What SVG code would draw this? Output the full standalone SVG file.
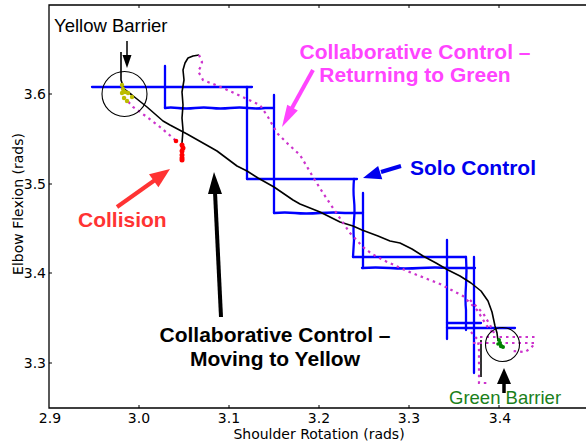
<svg xmlns="http://www.w3.org/2000/svg" width="586" height="442" viewBox="0 0 586 442">
<style>
.ax{stroke:#000;stroke-width:1.3;fill:none}
.tk{stroke:#000;stroke-width:1;fill:none}
.tl{font-family:"DejaVu Sans",sans-serif;font-size:14px;fill:#000}
.bl{stroke:#0000ff;stroke-width:2.3;fill:none;stroke-linejoin:round;stroke-linecap:round}
.bk{stroke:#000;stroke-width:1.6;fill:none;stroke-linejoin:round}
.mg{stroke:#cc33cc;stroke-width:2.2;fill:none;stroke-dasharray:2.5 4}
.ann{font-family:"Liberation Sans",Arial,sans-serif;font-weight:bold;font-size:21px}
.lab{font-family:"Liberation Sans",Arial,sans-serif;font-size:18.5px}
.circ{stroke:#000;stroke-width:1.1;fill:none}
</style>
<rect width="586" height="442" fill="#fff"/>
<g id="axes">
<path class="ax" d="M586,5 H49 V408 H586"/>
<path class="tk" d="M139,5v3M229,5v3M319,5v3M409,5v3M499,5v3M139,408v-3M229,408v-3M319,408v-3M409,408v-3M499,408v-3M49,94h3M49,184h3M49,273h3M49,363h3"/>
<g class="tl" text-anchor="middle">
<text x="50" y="423">2.9</text><text x="139" y="423">3.0</text><text x="229" y="423">3.1</text><text x="319" y="423">3.2</text><text x="409" y="423">3.3</text><text x="500" y="423">3.4</text>
<text x="319" y="439">Shoulder Rotation (rads)</text>
</g>
<g class="tl" text-anchor="end">
<text x="46" y="99">3.6</text><text x="46" y="189">3.5</text><text x="46" y="278">3.4</text><text x="46" y="368">3.3</text>
</g>
<text class="tl" text-anchor="middle" transform="translate(23,204) rotate(-90)">Elbow Flexion (rads)</text>
</g>
<g id="solo-control-trace">
<path class="bl" d="M92,87 H252"/>
<path class="bl" d="M165,66 V108"/>
<path class="bl" d="M165,108 Q170,107 178,108 T195,108 T212,108 T230,108 T248,108 T265,108 L274,108"/>
<path class="bl" d="M247,87 V179"/>
<path class="bl" d="M274,95 V213"/>
<path class="bl" d="M247,179 H357"/>
<path class="bl" d="M274,213 Q285,212 295,213 T320,213 T345,213 L363,213"/>
<path class="bl" d="M354,179 Q353,190 354,200 T354,220 T354,240 L353,257"/>
<path class="bl" d="M363,193 V268"/>
<path class="bl" d="M353,257 H466"/>
<path class="bl" d="M362,268 Q375,267 390,268 T420,268 T450,268 L475,268"/>
<path class="bl" d="M447,240 V339"/>
<path class="bl" d="M466,257 Q467,270 466,285 T466,310 L466,330"/>
<path class="bl" d="M474,257 V373"/>
<path class="bl" d="M447,323 H481"/>
<path class="bl" d="M447,328 H515"/>
</g>
<g id="collab-moving-trace">
<path class="bk" d="M498,341 L497,333 L495,326 L492,312 L488,301 L481,291 L471,283 L460,276 L448,270 L436,263 L423,256 L412,249 L400,243 L390,241 L378,236 L362,230 L353,226 L340,222 L320,212 L300,204 L293,200 L274,187 L258,178 L247,171 L237,166 L217,151 L210,147 L187,134 L170,125 L163,121 L147,107 L132,95 L124,89 L121,80 L121,52"/>
<path class="bk" d="M182,143 L183,130 L182,118 L183,105 L182,92 L184,80 L183,70 L185,63 L188,58 L193,56 L199,55"/>
<path class="bk" d="M481,340 V377"/>
</g>
<g id="collab-returning-trace">
<path class="mg" d="M124,97 L133,107 L147,117 L160,127 L173,138 L177,142"/>
<path class="mg" d="M199,55 L202,62 L200,68 L198,71 L203,80 L213,84 L223,88 L247,99 L260,105 L268,117 L277,133 L287,143 L300,155 L306,165 L313,177 L323,193 L333,208 L350,233 L363,247 L372,254 L383,260 L407,271 L440,284 L463,296 L477,310 L487,326 L494,334"/>
<path class="mg" d="M470,300 L483,313 L490,325 L494,333"/>
<path class="mg" d="M471,332 L478,340 L479,350 L479,383 L487,383"/>
<path class="mg" d="M480,337 H535"/>
<path class="mg" d="M473,343 H535 L531,348 L525,352 L513,351"/>
</g>
<g id="yellow-barrier">
<circle class="circ" cx="124.5" cy="94" r="22.5"/>
<g fill="#bcbc00">
<circle cx="122" cy="85" r="2.2"/><circle cx="123" cy="89" r="2.2"/><circle cx="122" cy="93" r="2.2"/><circle cx="125" cy="92" r="2.2"/><circle cx="128" cy="93" r="2.2"/><circle cx="132" cy="97" r="2.2"/><circle cx="127" cy="101" r="2.2"/><circle cx="124" cy="98" r="2.2"/>
</g>
<text class="lab" x="54" y="32" fill="#000">Yellow Barrier</text>
<path d="M127,41 V57" stroke="#000" stroke-width="1.5"/>
<polygon points="122.5,55 131.5,55 127,68" fill="#000"/>
</g>
<g id="collision">
<g fill="#ff0000">
<circle cx="176" cy="141" r="2.3"/><circle cx="182" cy="145" r="2.5"/><circle cx="183" cy="148" r="2.5"/><circle cx="182" cy="151" r="2.5"/><circle cx="182" cy="155" r="2.5"/><circle cx="182" cy="158" r="2.5"/><circle cx="182" cy="160" r="2.5"/>
</g>
<text class="ann" x="78" y="227" fill="#ff3333">Collision</text>
<path d="M117,207 L155,180" stroke="#ff3333" stroke-width="4"/>
<polygon points="158.4,187.2 149,174.2 170,169" fill="#ff3333"/>
</g>
<g id="green-barrier">
<circle class="circ" cx="502.5" cy="344.5" r="17"/>
<g fill="#008000">
<circle cx="499" cy="340" r="2"/><circle cx="500" cy="343" r="2"/><circle cx="501" cy="346" r="2.2"/><circle cx="503" cy="347" r="2"/><circle cx="498" cy="344" r="1.8"/>
</g>
<text class="lab" x="449" y="404" fill="#1a7f1a">Green Barrier</text>
<path d="M504,382 V393" stroke="#000" stroke-width="3.5"/>
<polygon points="497,384 511,384 504,368" fill="#000"/>
</g>
<g id="label-solo">
<text class="ann" x="410" y="175" fill="#0000ee">Solo Control</text>
<path d="M401,166 L381,172" stroke="#0000ee" stroke-width="4"/>
<polygon points="382.3,179.3 378.1,165.9 363,178" fill="#0000ee"/>
</g>
<g id="label-returning">
<text class="ann" text-anchor="middle" fill="#ff44ff"><tspan x="415" y="59">Collaborative Control –</tspan><tspan x="415" y="82">Returning to Green</tspan></text>
<path d="M313,70 L292,108" stroke="#ff44ff" stroke-width="4"/>
<polygon points="297.8,110.6 287.2,104.8 282,127" fill="#ff44ff"/>
</g>
<g id="label-moving">
<text class="ann" text-anchor="middle" fill="#000"><tspan x="275" y="342">Collaborative Control –</tspan><tspan x="275" y="366">Moving to Yellow</tspan></text>
<path d="M221,317 L215,192" stroke="#000" stroke-width="4"/>
<polygon points="222,194 208,194 214,172" fill="#000"/>
</g>
</svg>
